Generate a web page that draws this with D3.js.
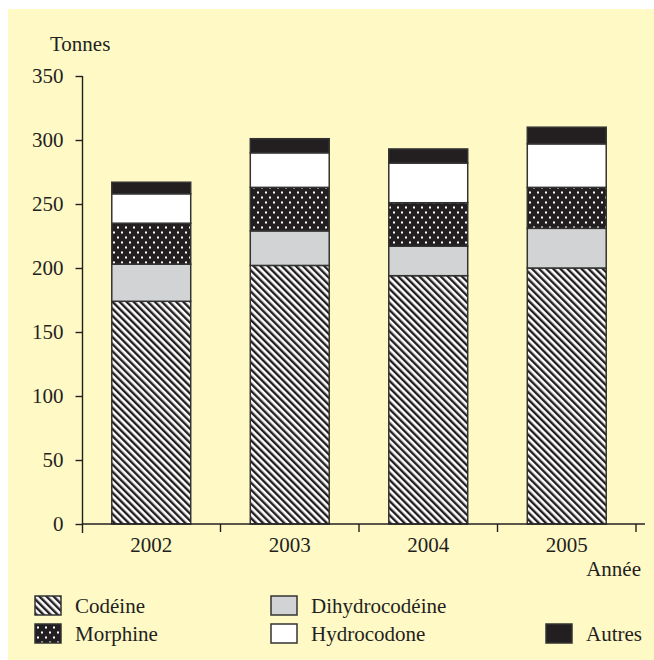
<!DOCTYPE html>
<html><head><meta charset="utf-8">
<script src="https://cdn.jsdelivr.net/npm/d3@7"></script>
<style>html,body{margin:0;padding:0;background:#fff;}svg{display:block;}</style>
</head><body>
<script>
const years = ["2002", "2003", "2004", "2005"];
const codeine = [174, 202, 194, 200];
const dihydrocodeine = [29, 27, 23, 31];
const morphine = [32, 34, 34, 32];
const hydrocodone = [23, 27, 31, 34];
const autres = [9, 11, 11, 13];
const seriesNames = ["Codéine", "Dihydrocodéine", "Morphine", "Hydrocodone", "Autres"];
const yTicks = [0, 50, 100, 150, 200, 250, 300, 350];

const W = 654, H = 660;
const ink = "#231f20";
const FONT = '"Liberation Serif"';
const svg = d3.select("body").append("svg").attr("width", W).attr("height", H);
const defs = svg.append("defs");

const hatch = defs.append("pattern").attr("id", "hatch").attr("patternUnits", "userSpaceOnUse")
  .attr("width", 5).attr("height", 5).attr("patternTransform", "rotate(-45)");
hatch.append("rect").attr("width", 5).attr("height", 5).attr("fill", "#fff");
hatch.append("rect").attr("width", 2.4).attr("height", 5).attr("fill", ink);

const dots = defs.append("pattern").attr("id", "dots").attr("patternUnits", "userSpaceOnUse")
  .attr("width", 8).attr("height", 10);
dots.append("rect").attr("width", 8).attr("height", 10).attr("fill", ink);
dots.append("rect").attr("x", 1).attr("y", 1.5).attr("width", 2).attr("height", 2).attr("fill", "#fff");
dots.append("rect").attr("x", 5).attr("y", 6.5).attr("width", 2).attr("height", 2).attr("fill", "#fff");

const fills = ["url(#hatch)", "#d1d3d4", "url(#dots)", "#ffffff", ink];

svg.append("rect").attr("x", 8).attr("y", 9).attr("width", W - 8).attr("height", H - 9).attr("fill", "#fff9c6");

const x = d3.scaleBand().domain(years).range([82, 636]).paddingInner(0.43).paddingOuter(0.215);
const y = d3.scaleLinear().domain([0, 350]).range([524, 76]);

const table = years.map((yr, i) => ({
  year: yr,
  "Codéine": codeine[i], "Dihydrocodéine": dihydrocodeine[i], "Morphine": morphine[i],
  "Hydrocodone": hydrocodone[i], "Autres": autres[i]
}));
const stack = d3.stack().keys(seriesNames)(table);

const g = svg.append("g");
stack.forEach((layer, li) => {
  g.selectAll(null).data(layer).join("rect")
    .attr("x", d => x(d.data.year))
    .attr("y", d => y(d[1]))
    .attr("width", x.bandwidth())
    .attr("height", d => y(d[0]) - y(d[1]))
    .attr("fill", fills[li])
    .attr("stroke", "#333")
    .attr("stroke-width", 1.5);
});

const yAxis = svg.append("g").attr("transform", "translate(82.5,0)")
  .call(d3.axisLeft(y).tickValues(yTicks).tickSize(7).tickSizeOuter(0).tickPadding(12));
yAxis.select(".domain").attr("stroke", ink).attr("stroke-width", 1.4).attr("d", `M0,${y(350)}V${y(0) + 9}`);
yAxis.selectAll(".tick line").attr("stroke", ink).attr("stroke-width", 1.4);
yAxis.selectAll(".tick text").style("font-family", FONT).style("font-size", "21px").attr("fill", ink);

const xAxis = svg.append("g").attr("transform", `translate(0,${y(0)})`)
  .call(d3.axisBottom(x).tickSize(0).tickSizeOuter(0).tickPadding(13));
xAxis.select(".domain").attr("stroke", ink).attr("stroke-width", 1.4).attr("d", "M82,0H645");
xAxis.selectAll(".tick text").style("font-family", FONT).style("font-size", "21px").attr("fill", ink);
const bounds = years.slice(1).map(yr => x(yr) - x.step() * x.paddingInner() / 2)
  .concat([x(years[3]) + x.bandwidth() + x.step() * x.paddingInner() / 2]);
xAxis.selectAll(null).data(bounds).join("line")
  .attr("x1", d => d).attr("x2", d => d).attr("y1", 0).attr("y2", 8)
  .attr("stroke", ink).attr("stroke-width", 1.4);

svg.append("text").attr("x", 50).attr("y", 51).text("Tonnes")
  .style("font-family", FONT).style("font-size", "21px").attr("fill", ink);
svg.append("text").attr("x", 641).attr("y", 576).attr("text-anchor", "end").text("Année")
  .style("font-family", FONT).style("font-size", "21px").attr("fill", ink);

const legendPos = [
  {sx: 35, row: 0}, {sx: 271, row: 0},
  {sx: 35, row: 1}, {sx: 271, row: 1}, {sx: 546, row: 1}
];
const rowY = [596, 624];
seriesNames.forEach((name, i) => {
  const p = legendPos[i];
  const gy = rowY[p.row];
  svg.append("rect").attr("x", p.sx).attr("y", gy).attr("width", 26).attr("height", 19)
    .attr("fill", fills[i]).attr("stroke", "#333").attr("stroke-width", 1.5);
  svg.append("text").attr("x", p.sx + 40).attr("y", gy + 17).text(name)
    .style("font-family", FONT).style("font-size", "21px").attr("fill", ink);
});
</script>
</body></html>
